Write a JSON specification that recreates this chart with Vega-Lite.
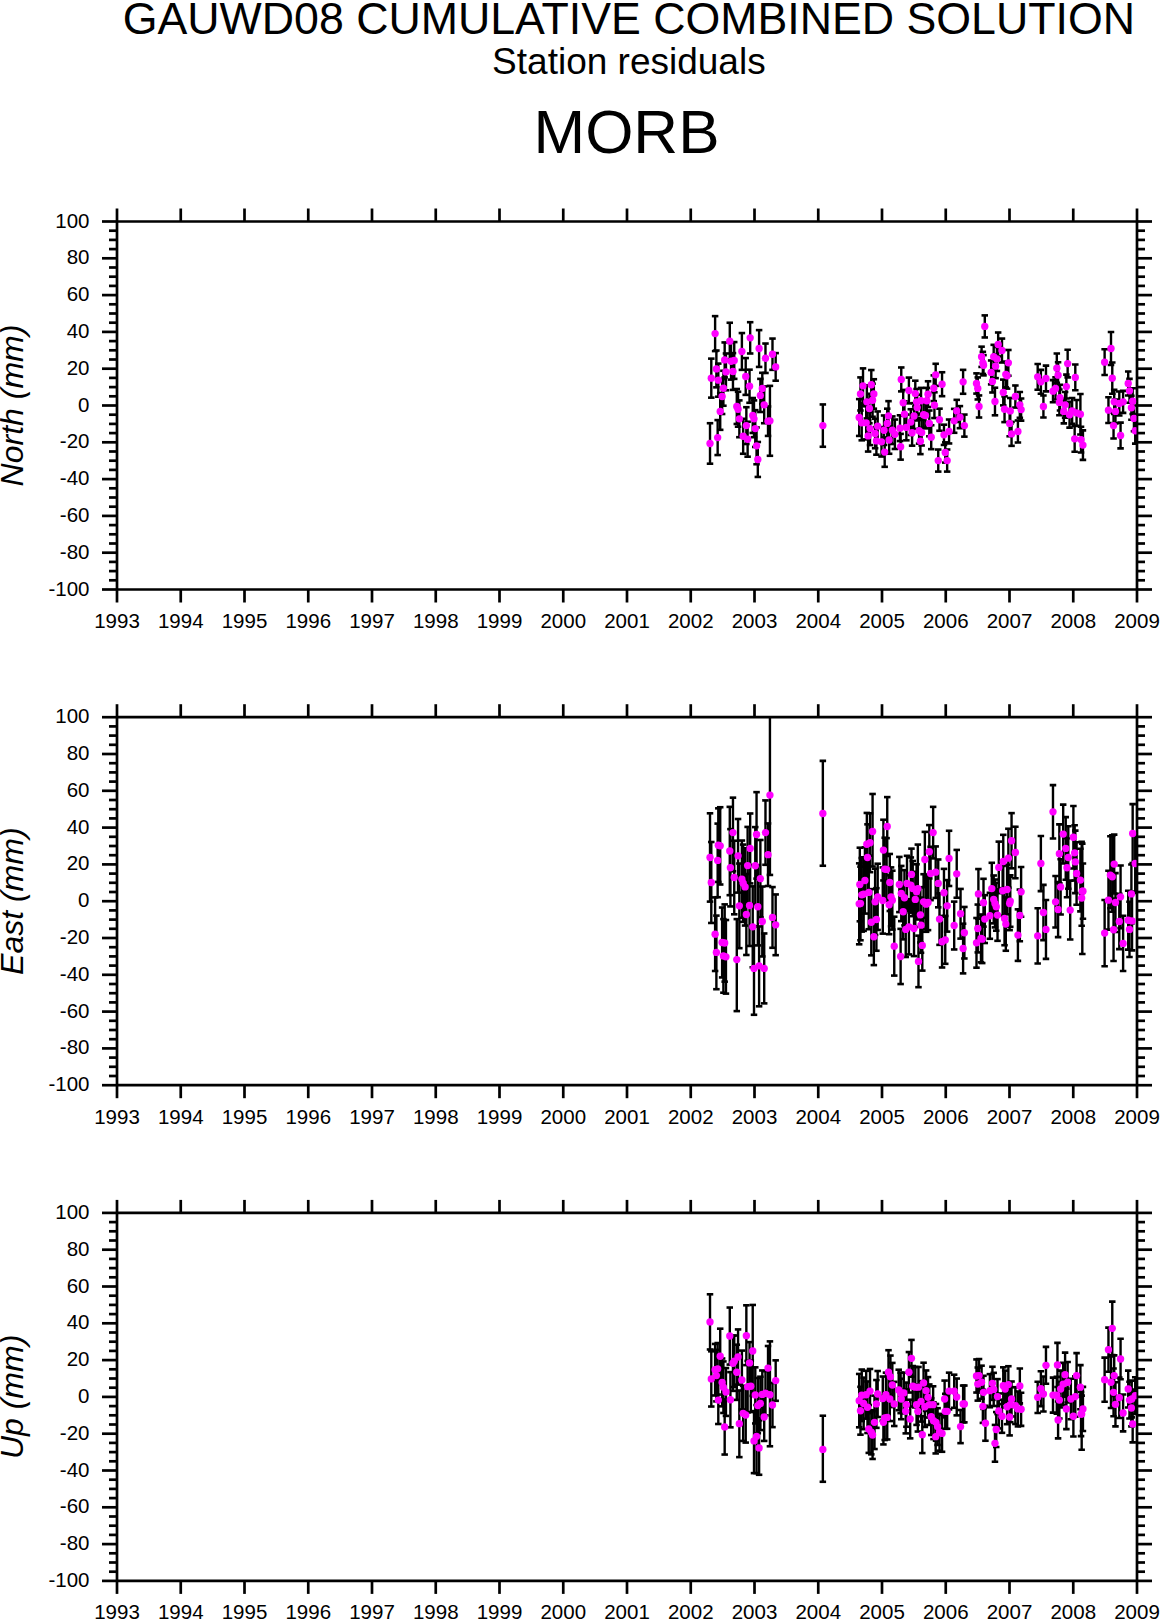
{
"$schema":"https://vega.github.io/schema/vega-lite/v6.json",
"background":"white",
"padding":{"left":-4.5,"top":-3,"right":0,"bottom":0},
"autosize":{"type":"pad"},
"bounds":"flush",
"spacing":127.7,
"title":{"text":"GAUWD08 CUMULATIVE COMBINED SOLUTION","subtitle":"Station residuals","anchor":"middle","font":"Liberation Sans","fontWeight":"normal","fontSize":44.7,"subtitleFont":"Liberation Sans","subtitleFontSize":37,"subtitleColor":"black","color":"black","offset":21,"subtitlePadding":1,"dx":51},
"config":{
 "view":{"stroke":null},
 "axis":{"grid":false,"domainColor":"black","domainWidth":2.7,"tickColor":"black","tickWidth":2.7,"labelColor":"black","labelFont":"Liberation Sans","labelFontSize":20.5,"labelOverlap":false,"labelFlush":false,"labelBound":false,"titleFont":"Liberation Sans","titleFontStyle":"italic","titleFontWeight":"normal","titleFontSize":32,"titleColor":"black","zindex":1,"tickRound":false}
},
"datasets":{
"north":[
{"t":2002.31,"v":-20.9,"lo":-31.9,"hi":-9.9},{"t":2002.33,"v":14.6,"lo":4,"hi":25.2},{"t":2002.39,"v":38.8,"lo":29.3,"hi":48.3},{"t":2002.41,"v":19.6,"lo":9.6,"hi":29.6},{"t":2002.43,"v":-17.7,"lo":-27.2,"hi":-8.2},{"t":2002.44,"v":13.5,"lo":4.5,"hi":22.5},{"t":2002.47,"v":-3.5,"lo":-13.5,"hi":6.5},{"t":2002.5,"v":4.6,"lo":-4.9,"hi":14.1},{"t":2002.52,"v":9.1,"lo":-0.4,"hi":18.6},{"t":2002.54,"v":24.5,"lo":15,"hi":34},{"t":2002.56,"v":18,"lo":8,"hi":28},{"t":2002.62,"v":34.7,"lo":24.7,"hi":44.7},{"t":2002.64,"v":23.8,"lo":13.8,"hi":33.8},{"t":2002.67,"v":18.2,"lo":8.2,"hi":28.2},{"t":2002.69,"v":24.2,"lo":14.2,"hi":34.2},{"t":2002.73,"v":-0.8,"lo":-10.3,"hi":8.7},{"t":2002.75,"v":-2.3,"lo":-11.8,"hi":7.2},{"t":2002.77,"v":-7.5,"lo":-17.5,"hi":2.5},{"t":2002.81,"v":29.1,"lo":19.1,"hi":39.1},{"t":2002.83,"v":-17,"lo":-26.5,"hi":-7.5},{"t":2002.87,"v":15.5,"lo":5.5,"hi":25.5},{"t":2002.88,"v":-11.2,"lo":-21.2,"hi":-1.2},{"t":2002.9,"v":-18.6,"lo":-28.1,"hi":-9.1},{"t":2002.93,"v":10.2,"lo":1.2,"hi":19.2},{"t":2002.94,"v":36.5,"lo":28,"hi":45},{"t":2002.98,"v":-5.7,"lo":-15.2,"hi":3.8},{"t":2003,"v":-7.5,"lo":-17.5,"hi":2.5},{"t":2003.02,"v":-12.8,"lo":-22.8,"hi":-2.8},{"t":2003.04,"v":-22.2,"lo":-32.2,"hi":-12.2},{"t":2003.06,"v":-29.6,"lo":-39.1,"hi":-20.1},{"t":2003.08,"v":30.7,"lo":20.7,"hi":40.7},{"t":2003.1,"v":5.2,"lo":-3.8,"hi":14.2},{"t":2003.13,"v":9,"lo":0.5,"hi":17.5},{"t":2003.16,"v":0.1,"lo":-9.9,"hi":10.1},{"t":2003.18,"v":25.4,"lo":17.4,"hi":33.4},{"t":2003.22,"v":-8.8,"lo":-16.8,"hi":-0.8},{"t":2003.25,"v":-8.6,"lo":-27.6,"hi":10.4},{"t":2003.29,"v":27.6,"lo":19.1,"hi":36.1},{"t":2003.34,"v":20.7,"lo":13.2,"hi":28.2},{"t":2004.08,"v":-11.2,"lo":-22.7,"hi":0.3},
{"t":2004.65,"v":-6.8,"lo":-16.8,"hi":3.2},{"t":2004.67,"v":6,"lo":-3,"hi":15},{"t":2004.69,"v":-9.7,"lo":-19.2,"hi":-0.2},{"t":2004.71,"v":10.4,"lo":0.9,"hi":19.9},{"t":2004.76,"v":-9.7,"lo":-18.7,"hi":-0.7},{"t":2004.77,"v":1.7,"lo":-7.3,"hi":10.7},{"t":2004.79,"v":-16.8,"lo":-25.3,"hi":-8.3},{"t":2004.81,"v":-1.9,"lo":-9.9,"hi":6.1},{"t":2004.82,"v":-12.8,"lo":-21.8,"hi":-3.8},{"t":2004.84,"v":11,"lo":3,"hi":19},{"t":2004.86,"v":2.6,"lo":-6.4,"hi":11.6},{"t":2004.88,"v":6,"lo":-2,"hi":14},{"t":2004.9,"v":-15.5,"lo":-23.5,"hi":-7.5},{"t":2004.92,"v":-19.5,"lo":-27,"hi":-12},{"t":2004.94,"v":-11.5,"lo":-19.5,"hi":-3.5},{"t":2005,"v":-20,"lo":-28,"hi":-12},{"t":2005.05,"v":-25.6,"lo":-33.6,"hi":-17.6},{"t":2005.04,"v":-13.7,"lo":-21.7,"hi":-5.7},{"t":2005.09,"v":-10,"lo":-18,"hi":-2},{"t":2005.11,"v":-5.9,"lo":-13.9,"hi":2.1},{"t":2005.12,"v":-19,"lo":-26.5,"hi":-11.5},{"t":2005.17,"v":-13.7,"lo":-21.2,"hi":-6.2},{"t":2005.21,"v":-15.9,"lo":-23.9,"hi":-7.9},{"t":2005.29,"v":-12.6,"lo":-19.6,"hi":-5.6},{"t":2005.3,"v":-22.7,"lo":-29.7,"hi":-15.7},{"t":2005.31,"v":13.9,"lo":7.4,"hi":20.4},{"t":2005.34,"v":1.2,"lo":-5.8,"hi":8.2},{"t":2005.36,"v":-5,"lo":-12,"hi":2},{"t":2005.39,"v":-12.2,"lo":-19.2,"hi":-5.2},{"t":2005.43,"v":7.9,"lo":0.9,"hi":14.9},{"t":2005.46,"v":-9.3,"lo":-16.3,"hi":-2.3},{"t":2005.48,"v":-15.1,"lo":-22.1,"hi":-8.1},{"t":2005.51,"v":-6,"lo":-13,"hi":1},{"t":2005.53,"v":6.2,"lo":-0.8,"hi":13.2},{"t":2005.55,"v":1.7,"lo":-5.3,"hi":8.7},{"t":2005.56,"v":-1.4,"lo":-8.4,"hi":5.6},{"t":2005.59,"v":-14,"lo":-21,"hi":-7},{"t":2005.61,"v":-19.7,"lo":-26.7,"hi":-12.7},{"t":2005.63,"v":-15,"lo":-22,"hi":-8},{"t":2005.62,"v":2.3,"lo":-4.7,"hi":9.3},{"t":2005.66,"v":-5.3,"lo":-12.3,"hi":1.7},{"t":2005.69,"v":-5.7,"lo":-12.7,"hi":1.3},{"t":2005.71,"v":2.3,"lo":-4.7,"hi":9.3},{"t":2005.73,"v":5.9,"lo":-1.1,"hi":12.9},{"t":2005.75,"v":-10,"lo":-17,"hi":-3},{"t":2005.78,"v":-17.5,"lo":-24,"hi":-11},{"t":2005.82,"v":9.1,"lo":2.1,"hi":16.1},{"t":2005.83,"v":-0.1,"lo":-7.1,"hi":6.9},{"t":2005.85,"v":16.4,"lo":10.4,"hi":22.4},{"t":2005.89,"v":-30.2,"lo":-36.2,"hi":-24.2},{"t":2005.91,"v":-8,"lo":-14,"hi":-2},{"t":2005.95,"v":11.3,"lo":4.8,"hi":17.8},{"t":2005.98,"v":-16.2,"lo":-21.7,"hi":-10.7},{"t":2006,"v":-25.8,"lo":-31.3,"hi":-20.3},{"t":2006.03,"v":-30.2,"lo":-36.2,"hi":-24.2},{"t":2006.06,"v":-14.4,"lo":-20.9,"hi":-7.9},{"t":2006.14,"v":-8.6,"lo":-15.1,"hi":-2.1},{"t":2006.18,"v":-3.2,"lo":-9.2,"hi":2.8},{"t":2006.23,"v":-6.6,"lo":-12.6,"hi":-0.6},{"t":2006.28,"v":12.6,"lo":6.1,"hi":19.1},{"t":2006.3,"v":-11.2,"lo":-17.2,"hi":-5.2},
{"t":2006.49,"v":11.7,"lo":6.2,"hi":17.2},{"t":2006.51,"v":9,"lo":3,"hi":15},{"t":2006.53,"v":-0.8,"lo":-6.8,"hi":5.2},{"t":2006.57,"v":26.2,"lo":20.7,"hi":31.7},{"t":2006.59,"v":22.9,"lo":16.9,"hi":28.9},{"t":2006.6,"v":21.6,"lo":16.1,"hi":27.1},{"t":2006.62,"v":42.7,"lo":36.7,"hi":48.7},{"t":2006.72,"v":17.7,"lo":11.2,"hi":24.2},{"t":2006.74,"v":12.8,"lo":6.8,"hi":18.8},{"t":2006.76,"v":26.2,"lo":19.7,"hi":32.7},{"t":2006.78,"v":1.9,"lo":-5.6,"hi":9.4},{"t":2006.79,"v":21.1,"lo":14.6,"hi":27.6},{"t":2006.81,"v":25,"lo":18.5,"hi":31.5},{"t":2006.83,"v":32.9,"lo":26.4,"hi":39.4},{"t":2006.89,"v":29.6,"lo":23.1,"hi":36.1},{"t":2006.91,"v":6.8,"lo":-0.2,"hi":13.8},{"t":2006.93,"v":-2.3,"lo":-9.3,"hi":4.7},{"t":2006.95,"v":16.6,"lo":9.6,"hi":23.6},{"t":2006.97,"v":15.9,"lo":8.9,"hi":22.9},{"t":2006.99,"v":22.9,"lo":15.9,"hi":29.9},{"t":2007.01,"v":-10,"lo":-17,"hi":-3},{"t":2007.02,"v":-3.2,"lo":-10.2,"hi":3.8},{"t":2007.04,"v":-15.7,"lo":-22.2,"hi":-9.2},{"t":2007.1,"v":4.6,"lo":-1.4,"hi":10.6},{"t":2007.14,"v":-14.4,"lo":-20.4,"hi":-8.4},{"t":2007.17,"v":0.1,"lo":-6.9,"hi":7.1},{"t":2007.19,"v":-2.5,"lo":-8.5,"hi":3.5},
{"t":2007.45,"v":15.3,"lo":8.3,"hi":22.3},{"t":2007.5,"v":12.6,"lo":6.1,"hi":19.1},{"t":2007.54,"v":-0.8,"lo":-6.8,"hi":5.2},{"t":2007.58,"v":14.4,"lo":7.4,"hi":21.4},{"t":2007.69,"v":7.5,"lo":1.5,"hi":13.5},{"t":2007.73,"v":9,"lo":3,"hi":15},{"t":2007.75,"v":20,"lo":12,"hi":28},{"t":2007.77,"v":16.2,"lo":9.2,"hi":23.2},{"t":2007.79,"v":1.4,"lo":-5.6,"hi":8.4},{"t":2007.8,"v":4,"lo":-3,"hi":11},{"t":2007.86,"v":-3.5,"lo":-10,"hi":3},{"t":2007.88,"v":0.1,"lo":-6.9,"hi":7.1},{"t":2007.9,"v":10,"lo":3.5,"hi":16.5},{"t":2007.92,"v":22.5,"lo":15,"hi":30},{"t":2007.95,"v":-5.3,"lo":-12.3,"hi":1.7},{"t":2007.99,"v":-3.2,"lo":-10.2,"hi":3.8},{"t":2008.03,"v":-18.4,"lo":-25.4,"hi":-11.4},{"t":2008.04,"v":15,"lo":8,"hi":22},{"t":2008.06,"v":-4.3,"lo":-11.3,"hi":2.7},{"t":2008.12,"v":-5,"lo":-16,"hi":6},{"t":2008.13,"v":-18.8,"lo":-25.8,"hi":-11.8},{"t":2008.16,"v":-21.8,"lo":-29.8,"hi":-13.8},
{"t":2008.5,"v":23.3,"lo":16.3,"hi":30.3},{"t":2008.56,"v":-2.8,"lo":-9.8,"hi":4.2},{"t":2008.6,"v":30.7,"lo":21.7,"hi":39.7},{"t":2008.62,"v":14.6,"lo":6.1,"hi":23.1},{"t":2008.64,"v":-11.2,"lo":-18.2,"hi":-4.2},{"t":2008.65,"v":1.7,"lo":-4.8,"hi":8.2},{"t":2008.67,"v":-3.5,"lo":-10,"hi":3},{"t":2008.73,"v":0.8,"lo":-5.7,"hi":7.3},{"t":2008.75,"v":-16.6,"lo":-23.6,"hi":-9.6},{"t":2008.79,"v":1.7,"lo":-4.3,"hi":7.7},{"t":2008.87,"v":11.7,"lo":5.2,"hi":18.2},{"t":2008.89,"v":7.7,"lo":1.2,"hi":14.2},{"t":2008.92,"v":-1.5,"lo":-8,"hi":5},{"t":2008.94,"v":2.1,"lo":-4.9,"hi":9.1},{"t":2008.96,"v":-7.3,"lo":-14.3,"hi":-0.3},{"t":2008.98,"v":-14,"lo":-21,"hi":-7}
],
"east":[
{"t":2002.31,"v":23.5,"lo":-0.5,"hi":47.5},{"t":2002.33,"v":9.9,"lo":-12.1,"hi":31.9},{"t":2002.39,"v":-18.2,"lo":-38.2,"hi":1.8},{"t":2002.41,"v":-28.1,"lo":-48.1,"hi":-8.1},{"t":2002.43,"v":21.9,"lo":1.9,"hi":41.9},{"t":2002.44,"v":30.2,"lo":10.2,"hi":50.2},{"t":2002.47,"v":29.8,"lo":8.8,"hi":50.8},{"t":2002.5,"v":-22.7,"lo":-41.7,"hi":-3.7},{"t":2002.54,"v":-23,"lo":-44,"hi":-2},{"t":2002.52,"v":-30,"lo":-50,"hi":-10},{"t":2002.56,"v":-30.5,"lo":-50.5,"hi":-10.5},{"t":2002.62,"v":27,"lo":3,"hi":51},{"t":2002.63,"v":17.9,"lo":-3.1,"hi":38.9},{"t":2002.67,"v":37,"lo":16,"hi":56},{"t":2002.69,"v":12.6,"lo":-7.4,"hi":32.6},{"t":2002.73,"v":-32,"lo":-60,"hi":-10},{"t":2002.75,"v":24.4,"lo":4.4,"hi":44.4},{"t":2002.77,"v":-2.8,"lo":-25.8,"hi":20.2},{"t":2002.81,"v":11.7,"lo":-9.3,"hi":32.7},{"t":2002.83,"v":9.5,"lo":-11.5,"hi":30.5},{"t":2002.86,"v":7.5,"lo":-13.5,"hi":28.5},{"t":2002.88,"v":-7.5,"lo":-29.5,"hi":14.5},{"t":2002.9,"v":19.1,"lo":-1.9,"hi":40.1},{"t":2002.93,"v":-2.6,"lo":-24.6,"hi":19.4},{"t":2002.94,"v":28.4,"lo":9.4,"hi":47.4},{"t":2002.98,"v":-14.2,"lo":-36.2,"hi":7.8},{"t":2003,"v":-36.8,"lo":-62,"hi":-14},{"t":2003.02,"v":19,"lo":-2,"hi":40},{"t":2003.04,"v":36,"lo":12,"hi":59},{"t":2003.06,"v":-3.3,"lo":-24.3,"hi":19.3},{"t":2003.08,"v":-35.4,"lo":-57.4,"hi":-14},{"t":2003.1,"v":12,"lo":-9,"hi":33},{"t":2003.13,"v":-11.3,"lo":-30.3,"hi":7.7},{"t":2003.16,"v":-36.8,"lo":-55.8,"hi":-17.8},{"t":2003.18,"v":37,"lo":19.5,"hi":54.5},{"t":2003.22,"v":25,"lo":8,"hi":42},{"t":2003.25,"v":57.4,"lo":14,"hi":100.5},{"t":2003.29,"v":-9.1,"lo":-25.6,"hi":7.4},{"t":2003.34,"v":-13.1,"lo":-29.6,"hi":3.4},{"t":2004.08,"v":47.4,"lo":19,"hi":76},
{"t":2004.65,"v":-1.7,"lo":-23.7,"hi":20.3},{"t":2004.67,"v":-1.5,"lo":-21.5,"hi":18.5},{"t":2004.66,"v":8.8,"lo":-11.2,"hi":28.8},{"t":2004.69,"v":3.2,"lo":-16.8,"hi":23.2},{"t":2004.72,"v":3.6,"lo":-16.4,"hi":23.6},{"t":2004.74,"v":11,"lo":-7,"hi":29},{"t":2004.77,"v":30.7,"lo":13.7,"hi":47.7},{"t":2004.78,"v":23.5,"lo":5.5,"hi":41.5},{"t":2004.8,"v":4.5,"lo":-15.5,"hi":24.5},{"t":2004.82,"v":31.5,"lo":15.5,"hi":47.5},{"t":2004.84,"v":-11.7,"lo":-29.7,"hi":6.3},{"t":2004.86,"v":37.6,"lo":18.6,"hi":58},{"t":2004.88,"v":-19.6,"lo":-35,"hi":-0.6},{"t":2004.9,"v":-0.6,"lo":-18.6,"hi":17.4},{"t":2004.92,"v":-10.2,"lo":-27.2,"hi":6.8},{"t":2004.94,"v":2.1,"lo":-15.9,"hi":20.1},{"t":2005.02,"v":0.1,"lo":-17.9,"hi":18.1},{"t":2005.03,"v":27.5,"lo":11,"hi":44},{"t":2005.05,"v":17.2,"lo":0.2,"hi":34.2},{"t":2005.08,"v":17,"lo":0,"hi":34},{"t":2005.09,"v":40.3,"lo":24.3,"hi":56.3},{"t":2005.12,"v":-2.2,"lo":-18.2,"hi":13.8},{"t":2005.13,"v":9.9,"lo":-5.6,"hi":25.4},{"t":2005.15,"v":2.1,"lo":-13.9,"hi":18.1},{"t":2005.17,"v":0.3,"lo":-15.7,"hi":16.3},{"t":2005.2,"v":-24.7,"lo":-40.7,"hi":-8.7},{"t":2005.28,"v":8.8,"lo":-6.2,"hi":23.8},{"t":2005.3,"v":-30.3,"lo":-45.3,"hi":-15.3},{"t":2005.31,"v":3.9,"lo":-11.1,"hi":18.9},{"t":2005.34,"v":-6,"lo":-21,"hi":9},{"t":2005.36,"v":1.6,"lo":-13.4,"hi":16.6},{"t":2005.38,"v":-15.6,"lo":-30.6,"hi":-0.6},{"t":2005.4,"v":9.4,"lo":-5.6,"hi":24.4},{"t":2005.43,"v":-14.2,"lo":-29.2,"hi":0.8},{"t":2005.46,"v":8.5,"lo":-6.5,"hi":23.5},{"t":2005.47,"v":14.3,"lo":0.3,"hi":28.3},{"t":2005.51,"v":-15.1,"lo":-30.1,"hi":-0.1},{"t":2005.49,"v":6.6,"lo":-8.4,"hi":21.6},{"t":2005.53,"v":0.7,"lo":-14.3,"hi":15.7},{"t":2005.55,"v":4.8,"lo":-10.2,"hi":19.8},{"t":2005.57,"v":6.6,"lo":-8.4,"hi":30.5},{"t":2005.58,"v":-33,"lo":-47,"hi":-19},{"t":2005.61,"v":-7.7,"lo":-22.7,"hi":7.3},{"t":2005.62,"v":-13.3,"lo":-28.3,"hi":1.7},{"t":2005.64,"v":-24.3,"lo":-38,"hi":-9.3},{"t":2005.66,"v":-0.6,"lo":-15.6,"hi":14.4},{"t":2005.68,"v":22.4,"lo":7.4,"hi":37.4},{"t":2005.7,"v":-1.9,"lo":-16.9,"hi":13.1},{"t":2005.73,"v":-1,"lo":-16,"hi":14},{"t":2005.75,"v":26.6,"lo":12.1,"hi":41.1},{"t":2005.77,"v":14.8,"lo":0.3,"hi":29.3},{"t":2005.81,"v":37,"lo":23,"hi":51},{"t":2005.85,"v":15.5,"lo":1.5,"hi":29.5},{"t":2005.89,"v":9.4,"lo":-3.6,"hi":22.4},{"t":2005.91,"v":-10,"lo":-24,"hi":4},{"t":2005.95,"v":-22.3,"lo":-36.3,"hi":-8.3},{"t":2005.98,"v":4.3,"lo":-8.7,"hi":17.3},{"t":2006,"v":-21.3,"lo":-34.3,"hi":-8.3},{"t":2006.03,"v":-2.8,"lo":-16.8,"hi":11.2},{"t":2006.06,"v":23,"lo":8,"hi":38},{"t":2006.14,"v":-13.5,"lo":-26.5,"hi":-0.5},{"t":2006.18,"v":14.6,"lo":1.6,"hi":27.6},{"t":2006.24,"v":-7.1,"lo":-20.6,"hi":6.4},{"t":2006.28,"v":-26,"lo":-39.5,"hi":-12.5},{"t":2006.3,"v":-17.4,"lo":-31.4,"hi":-3.4},
{"t":2006.49,"v":-22.9,"lo":-36.4,"hi":-9.4},{"t":2006.51,"v":-15.1,"lo":-28.1,"hi":-2.1},{"t":2006.52,"v":3.7,"lo":-9.8,"hi":17.2},{"t":2006.56,"v":-20.5,"lo":-33.5,"hi":-7.5},{"t":2006.58,"v":-20.9,"lo":-33.9,"hi":-7.9},{"t":2006.6,"v":-1.1,"lo":-14.1,"hi":11.9},{"t":2006.62,"v":-10,"lo":-23,"hi":3},{"t":2006.7,"v":-8.2,"lo":-20.7,"hi":4.3},{"t":2006.73,"v":6.6,"lo":-7.4,"hi":20.6},{"t":2006.76,"v":0.7,"lo":-12.3,"hi":13.7},{"t":2006.78,"v":-1.5,"lo":-14.5,"hi":11.5},{"t":2006.8,"v":-3.3,"lo":-16.3,"hi":9.7},{"t":2006.82,"v":-7.8,"lo":-21.8,"hi":6.2},{"t":2006.84,"v":18.1,"lo":4.1,"hi":32.1},{"t":2006.9,"v":5.4,"lo":-8.1,"hi":18.9},{"t":2006.91,"v":21.3,"lo":6.8,"hi":35.8},{"t":2006.93,"v":-9.7,"lo":-24.2,"hi":4.8},{"t":2006.95,"v":-12.7,"lo":-27.2,"hi":1.8},{"t":2006.97,"v":6.1,"lo":-7.4,"hi":19.6},{"t":2006.99,"v":23.1,"lo":7.1,"hi":39.1},{"t":2007.01,"v":-1.5,"lo":-16,"hi":13},{"t":2007.02,"v":-0.2,"lo":-14.2,"hi":13.8},{"t":2007.04,"v":32.6,"lo":17.6,"hi":47.6},{"t":2007.1,"v":26.2,"lo":12.2,"hi":40.2},{"t":2007.14,"v":-18.7,"lo":-32.7,"hi":-4.7},{"t":2007.17,"v":-8,"lo":-22,"hi":6},{"t":2007.19,"v":4.8,"lo":-8.7,"hi":18.3},
{"t":2007.45,"v":-19.1,"lo":-34.1,"hi":-4.1},{"t":2007.5,"v":20.2,"lo":5.2,"hi":35.2},{"t":2007.54,"v":-6.4,"lo":-21.4,"hi":8.6},{"t":2007.58,"v":-15.6,"lo":-31.6,"hi":0.4},{"t":2007.69,"v":48.3,"lo":33.8,"hi":62.8},{"t":2007.73,"v":-0.6,"lo":-14.6,"hi":13.4},{"t":2007.77,"v":-4.8,"lo":-19.8,"hi":10.2},{"t":2007.79,"v":25.5,"lo":9.5,"hi":41.5},{"t":2007.81,"v":7.5,"lo":-7.5,"hi":22.5},{"t":2007.85,"v":36.2,"lo":20.2,"hi":52.2},{"t":2007.89,"v":28.4,"lo":11.4,"hi":45.4},{"t":2007.91,"v":17.9,"lo":1.9,"hi":33.9},{"t":2007.93,"v":23.5,"lo":6.5,"hi":40.5},{"t":2007.96,"v":-5.1,"lo":-21.1,"hi":10.9},{"t":2008.01,"v":34.5,"lo":17.5,"hi":51.5},{"t":2008.03,"v":26,"lo":11,"hi":41},{"t":2008.04,"v":21.1,"lo":4.1,"hi":38.1},{"t":2008.06,"v":14.8,"lo":-2.2,"hi":31.8},{"t":2008.12,"v":11.2,"lo":-5.8,"hi":28.2},{"t":2008.14,"v":1.4,"lo":-13.6,"hi":32},{"t":2008.15,"v":5.2,"lo":-29,"hi":31},{"t":2008.16,"v":5.2,"lo":-9.8,"hi":20.2},
{"t":2008.5,"v":-17.6,"lo":-35.6,"hi":0.4},{"t":2008.56,"v":0.3,"lo":-15.7,"hi":16.3},{"t":2008.59,"v":13.9,"lo":-4.1,"hi":35},{"t":2008.62,"v":13,"lo":-6,"hi":35.5},{"t":2008.64,"v":-15.8,"lo":-32.8,"hi":1.2},{"t":2008.65,"v":19.9,"lo":3.9,"hi":35.9},{"t":2008.67,"v":-1,"lo":-17,"hi":15},{"t":2008.73,"v":-11.3,"lo":-26.3,"hi":3.7},{"t":2008.75,"v":2.1,"lo":-14.9,"hi":19.1},{"t":2008.79,"v":-23.2,"lo":-38.2,"hi":-8.2},{"t":2008.87,"v":-10.6,"lo":-26.6,"hi":5.4},{"t":2008.89,"v":-15.6,"lo":-30.6,"hi":-0.6},{"t":2008.92,"v":3.7,"lo":-12.3,"hi":19.7},{"t":2008.94,"v":36.5,"lo":20.5,"hi":52.5},{"t":2008.93,"v":-11,"lo":-27,"hi":5},{"t":2008.98,"v":20.2,"lo":4.2,"hi":36.2}
],
"up":[
{"t":2002.31,"v":40.5,"lo":25.5,"hi":55.5},{"t":2002.33,"v":9.5,"lo":-5.5,"hi":24.5},{"t":2002.39,"v":14.5,"lo":0.5,"hi":28.5},{"t":2002.41,"v":11.3,"lo":-2.7,"hi":25.3},{"t":2002.43,"v":15,"lo":1,"hi":29},{"t":2002.44,"v":-2,"lo":-15,"hi":11},{"t":2002.47,"v":21.8,"lo":6.8,"hi":36.8},{"t":2002.5,"v":7.6,"lo":-5.4,"hi":20.6},{"t":2002.52,"v":5,"lo":-9,"hi":19},{"t":2002.54,"v":-16.6,"lo":-31.6,"hi":-1.6},{"t":2002.56,"v":2.4,"lo":-10.6,"hi":15.4},{"t":2002.62,"v":32.8,"lo":17.3,"hi":48.3},{"t":2002.63,"v":-1.8,"lo":-16.8,"hi":13.2},{"t":2002.67,"v":18,"lo":3,"hi":33},{"t":2002.69,"v":19.1,"lo":5.1,"hi":33.1},{"t":2002.73,"v":13.1,"lo":-1.9,"hi":28.1},{"t":2002.75,"v":21.4,"lo":6.4,"hi":36.4},{"t":2002.77,"v":-14.8,"lo":-33,"hi":3.2},{"t":2002.81,"v":8.9,"lo":-7.1,"hi":24.9},{"t":2002.83,"v":-9.2,"lo":-24.2,"hi":5.8},{"t":2002.87,"v":-10.1,"lo":-25.1,"hi":4.9},{"t":2002.88,"v":33,"lo":17,"hi":49.5},{"t":2002.9,"v":5.3,"lo":-8.7,"hi":19.3},{"t":2002.93,"v":18.2,"lo":4.2,"hi":29.5},{"t":2002.95,"v":5.5,"lo":-8.5,"hi":19.5},{"t":2002.98,"v":24.7,"lo":0.3,"hi":49.7},{"t":2003,"v":-24.2,"lo":-41.7,"hi":-8},{"t":2003.02,"v":0.8,"lo":-14.7,"hi":15.8},{"t":2003.04,"v":-21.7,"lo":-41.7,"hi":-4.7},{"t":2003.06,"v":-5,"lo":-20,"hi":10},{"t":2003.08,"v":-28,"lo":-42.6,"hi":-13},{"t":2003.1,"v":-3.8,"lo":-18.3,"hi":10.7},{"t":2003.13,"v":1.1,"lo":-11.9,"hi":14.1},{"t":2003.16,"v":-11.2,"lo":-24.2,"hi":1.8},{"t":2003.18,"v":1.7,"lo":-10.3,"hi":13.7},{"t":2003.22,"v":15.4,"lo":3.4,"hi":27.4},{"t":2003.25,"v":0.9,"lo":-27.1,"hi":29.9},{"t":2003.29,"v":-4.7,"lo":-16.7,"hi":7.3},{"t":2003.34,"v":8.6,"lo":-2.4,"hi":19.6},{"t":2004.08,"v":-28.8,"lo":-46.4,"hi":-10.5},
{"t":2004.65,"v":-2.3,"lo":-16.8,"hi":12.2},{"t":2004.67,"v":-7.8,"lo":-20.8,"hi":5.2},{"t":2004.69,"v":0.6,"lo":-13.4,"hi":14.6},{"t":2004.72,"v":-3.8,"lo":-17.8,"hi":10.2},{"t":2004.76,"v":0.9,"lo":-12.1,"hi":13.9},{"t":2004.78,"v":-5.9,"lo":-19.9,"hi":8.1},{"t":2004.8,"v":-17.7,"lo":-30.7,"hi":-4.7},{"t":2004.82,"v":2.9,"lo":-9.1,"hi":14.9},{"t":2004.84,"v":-19.5,"lo":-31.5,"hi":-7.5},{"t":2004.86,"v":-21,"lo":-34,"hi":-8},{"t":2004.89,"v":-14.1,"lo":-28.6,"hi":0.4},{"t":2004.92,"v":-4.1,"lo":-17.1,"hi":8.9},{"t":2004.94,"v":1.3,"lo":-11.2,"hi":13.8},{"t":2005.02,"v":-1.2,"lo":-13.2,"hi":10.8},{"t":2005.03,"v":-14.1,"lo":-26.1,"hi":-2.1},{"t":2005.05,"v":-11.7,"lo":-23.7,"hi":0.3},{"t":2005.07,"v":0.9,"lo":-11.1,"hi":12.9},{"t":2005.09,"v":-11.4,"lo":-23.4,"hi":0.6},{"t":2005.11,"v":13.1,"lo":1.1,"hi":25.1},{"t":2005.13,"v":-1.4,"lo":-13.4,"hi":10.6},{"t":2005.14,"v":10.7,"lo":-0.8,"hi":22.2},{"t":2005.17,"v":6.2,"lo":-5.8,"hi":18.2},{"t":2005.2,"v":-4.1,"lo":-16.1,"hi":7.9},{"t":2005.27,"v":3.5,"lo":-7.5,"hi":14.5},{"t":2005.3,"v":1.9,"lo":-9.1,"hi":12.9},{"t":2005.31,"v":-1.4,"lo":-12.4,"hi":9.6},{"t":2005.35,"v":1.9,"lo":-9.1,"hi":12.9},{"t":2005.39,"v":-4.5,"lo":-16.5,"hi":7.5},{"t":2005.38,"v":-8.1,"lo":-20.1,"hi":3.9},{"t":2005.43,"v":13.1,"lo":2.1,"hi":24.1},{"t":2005.45,"v":-12.3,"lo":-22.8,"hi":-1.8},{"t":2005.47,"v":20.7,"lo":10.7,"hi":30.7},{"t":2005.49,"v":5.5,"lo":-5.5,"hi":16.5},{"t":2005.53,"v":5,"lo":-6,"hi":16},{"t":2005.55,"v":-4.5,"lo":-15.5,"hi":6.5},{"t":2005.57,"v":-8.1,"lo":-19.1,"hi":2.9},{"t":2005.58,"v":5,"lo":-6,"hi":16},{"t":2005.62,"v":-2.7,"lo":-13.7,"hi":8.3},{"t":2005.64,"v":-20.8,"lo":-30.8,"hi":-10.8},{"t":2005.66,"v":7.3,"lo":-3.7,"hi":18.3},{"t":2005.68,"v":-5.6,"lo":-16.6,"hi":5.4},{"t":2005.7,"v":3.1,"lo":-7.9,"hi":14.1},{"t":2005.73,"v":-0.5,"lo":-11.5,"hi":10.5},{"t":2005.75,"v":-4.5,"lo":-15.5,"hi":6.5},{"t":2005.78,"v":-11,"lo":-21,"hi":-1},{"t":2005.81,"v":-4.5,"lo":-14.5,"hi":5.5},{"t":2005.815,"v":-13.2,"lo":-23.2,"hi":-3.2},{"t":2005.85,"v":-21.9,"lo":-31,"hi":-11.9},{"t":2005.855,"v":-14.1,"lo":-24.1,"hi":-4.1},{"t":2005.88,"v":-16.4,"lo":-26.4,"hi":-6.4},{"t":2005.91,"v":-19.5,"lo":-29.5,"hi":-9.5},{"t":2005.95,"v":-20.1,"lo":-30.1,"hi":-10.1},{"t":2005.99,"v":-1.4,"lo":-11.4,"hi":8.6},{"t":2006,"v":-8.1,"lo":-17.6,"hi":1.4},{"t":2006.03,"v":-8.1,"lo":-17.6,"hi":1.4},{"t":2006.06,"v":2.9,"lo":-7.1,"hi":12.9},{"t":2006.14,"v":2.8,"lo":-6.2,"hi":11.8},{"t":2006.18,"v":-0.3,"lo":-10.3,"hi":9.7},{"t":2006.24,"v":-16.4,"lo":-25.4,"hi":-7.4},{"t":2006.28,"v":-4.1,"lo":-14.1,"hi":5.9},{"t":2006.3,"v":-4.1,"lo":-14.1,"hi":5.9},
{"t":2006.49,"v":11.1,"lo":2.1,"hi":20.1},{"t":2006.51,"v":6.7,"lo":-2.3,"hi":15.7},{"t":2006.53,"v":11.3,"lo":2.3,"hi":20.3},{"t":2006.57,"v":7.7,"lo":-1.3,"hi":16.7},{"t":2006.59,"v":-5.4,"lo":-14.4,"hi":3.6},{"t":2006.6,"v":2.2,"lo":-6.8,"hi":11.2},{"t":2006.63,"v":-14.6,"lo":-24.1,"hi":-5.1},{"t":2006.7,"v":3.1,"lo":-5.9,"hi":12.1},{"t":2006.74,"v":7.1,"lo":-1.9,"hi":16.1},{"t":2006.76,"v":3.8,"lo":-5.2,"hi":12.8},{"t":2006.78,"v":-25.5,"lo":-35.5,"hi":-15.5},{"t":2006.8,"v":-18,"lo":-27.5,"hi":-8.5},{"t":2006.82,"v":-0.1,"lo":-9.6,"hi":9.4},{"t":2006.84,"v":-7.9,"lo":-17.4,"hi":1.6},{"t":2006.89,"v":-10.8,"lo":-19.8,"hi":-1.8},{"t":2006.91,"v":5.8,"lo":-4.2,"hi":15.8},{"t":2006.94,"v":4,"lo":-6,"hi":14},{"t":2006.97,"v":-5.6,"lo":-15.1,"hi":3.9},{"t":2006.99,"v":6.4,"lo":-3.6,"hi":16.4},{"t":2007.01,"v":-11.2,"lo":-21.2,"hi":-1.2},{"t":2007.02,"v":-4.5,"lo":-14,"hi":5},{"t":2007.04,"v":-1.4,"lo":-10.9,"hi":8.1},{"t":2007.1,"v":-5,"lo":-15,"hi":5},{"t":2007.14,"v":-6.8,"lo":-16.3,"hi":2.7},{"t":2007.17,"v":5.7,"lo":-3.8,"hi":15.2},{"t":2007.19,"v":-7,"lo":-16,"hi":2},
{"t":2007.45,"v":-0.5,"lo":-9,"hi":8},{"t":2007.5,"v":4.2,"lo":-5.3,"hi":13.7},{"t":2007.54,"v":1.3,"lo":-8.2,"hi":10.8},{"t":2007.58,"v":16.9,"lo":6.9,"hi":26.9},{"t":2007.69,"v":0.7,"lo":-8.8,"hi":10.2},{"t":2007.75,"v":0.6,"lo":-9.4,"hi":10.6},{"t":2007.76,"v":17.1,"lo":5.1,"hi":29.1},{"t":2007.77,"v":-12.8,"lo":-22.8,"hi":-2.8},{"t":2007.79,"v":-2,"lo":-12,"hi":8},{"t":2007.81,"v":4,"lo":-6,"hi":14},{"t":2007.85,"v":6.7,"lo":-4.8,"hi":18.2},{"t":2007.88,"v":11.8,"lo":-0.2,"hi":23.8},{"t":2007.9,"v":-6.8,"lo":-17.8,"hi":4.2},{"t":2007.92,"v":7.7,"lo":-3.3,"hi":18.7},{"t":2007.97,"v":-1.4,"lo":-12.4,"hi":9.6},{"t":2008.01,"v":-10.8,"lo":-21.8,"hi":0.2},{"t":2008.04,"v":-0.1,"lo":-11.1,"hi":10.9},{"t":2008.06,"v":11.3,"lo":-0.2,"hi":23.5},{"t":2008.12,"v":5,"lo":-7,"hi":17},{"t":2008.13,"v":-9.6,"lo":-21.6,"hi":2.4},{"t":2008.14,"v":-9.6,"lo":-29,"hi":0.4},{"t":2008.16,"v":-6.8,"lo":-18.8,"hi":5.2},
{"t":2008.5,"v":9.1,"lo":-2.9,"hi":21.1},{"t":2008.56,"v":25.4,"lo":13.4,"hi":37.4},{"t":2008.6,"v":7.7,"lo":-6.3,"hi":21.7},{"t":2008.62,"v":37,"lo":22.5,"hi":51.5},{"t":2008.64,"v":2.2,"lo":-10.8,"hi":15.2},{"t":2008.65,"v":11.3,"lo":0.3,"hi":22.3},{"t":2008.67,"v":-4.3,"lo":-16.3,"hi":7.7},{"t":2008.73,"v":-0.7,"lo":-11.7,"hi":10.3},{"t":2008.75,"v":20.3,"lo":9.3,"hi":31.3},{"t":2008.79,"v":-9,"lo":-19,"hi":1},{"t":2008.87,"v":4,"lo":-6,"hi":14},{"t":2008.89,"v":-2,"lo":-12,"hi":8},{"t":2008.92,"v":-6.3,"lo":-16.3,"hi":3.7},{"t":2008.925,"v":-1.4,"lo":-11.4,"hi":8.6},{"t":2008.94,"v":-15,"lo":-25,"hi":3},{"t":2008.98,"v":0.4,"lo":-9.6,"hi":10.4}
]
},
"vconcat":[
{"width":1020,"height":368,"title":{"text":"MORB","font":"Liberation Sans","fontWeight":"normal","fontSize":62,"color":"black","anchor":"middle","offset":41},
"data":{"name":"north"},"resolve":{"axis":{"x":"independent","y":"independent"}},
"layer":[
{"mark":{"type":"rule","stroke":"black","strokeWidth":2.4,"clip":true},"encoding":{
 "x":{"field":"t","type":"quantitative","scale":{"domain":[1993,2009],"nice":false,"zero":false},"axis":{"orient":"bottom","title":null,"values":[1993,1994,1995,1996,1997,1998,1999,2000,2001,2002,2003,2004,2005,2006,2007,2008,2009],"format":"d","tickSize":13,"labelPadding":9.5}},
 "y":{"field":"lo","type":"quantitative","scale":{"domain":[-100,100],"nice":false,"zero":false},"axis":{"orient":"left","title":"North (mm)","values":[-100,-80,-60,-40,-20,0,20,40,60,80,100],"labelExpr":"'' + datum.value","tickSize":15,"labelPadding":12.5,"titlePadding":18.5}},
 "y2":{"field":"hi"}}},
{"mark":{"type":"tick","orient":"horizontal","size":6.5,"thickness":2.6,"color":"black","opacity":1,"clip":true},"encoding":{
 "x":{"field":"t","type":"quantitative","axis":{"orient":"top","title":null,"labels":false,"values":[1993,1994,1995,1996,1997,1998,1999,2000,2001,2002,2003,2004,2005,2006,2007,2008,2009],"tickSize":13}},
 "y":{"field":"lo","type":"quantitative","axis":{"orient":"left","title":null,"labels":false,"domain":false,"tickSize":8,"values":[-95,-90,-85,-75,-70,-65,-55,-50,-45,-35,-30,-25,-15,-10,-5,5,10,15,25,30,35,45,50,55,65,70,75,85,90,95]}}}},
{"mark":{"type":"tick","orient":"horizontal","size":6.5,"thickness":2.6,"color":"black","opacity":1,"clip":true},"encoding":{
 "x":{"field":"t","type":"quantitative","axis":null},
 "y":{"field":"hi","type":"quantitative","axis":{"orient":"right","title":null,"labels":false,"values":[-100,-80,-60,-40,-20,0,20,40,60,80,100],"tickSize":15}}}},
{"mark":{"type":"circle","size":54,"color":"#ff00ff","opacity":1,"clip":true},"encoding":{
 "x":{"field":"t","type":"quantitative","axis":null},
 "y":{"field":"v","type":"quantitative","axis":{"orient":"right","title":null,"labels":false,"domain":false,"tickSize":8,"values":[-95,-90,-85,-75,-70,-65,-55,-50,-45,-35,-30,-25,-15,-10,-5,5,10,15,25,30,35,45,50,55,65,70,75,85,90,95]}}}}
]},
{"width":1020,"height":368,
"data":{"name":"east"},"resolve":{"axis":{"x":"independent","y":"independent"}},
"layer":[
{"mark":{"type":"rule","stroke":"black","strokeWidth":2.4,"clip":true},"encoding":{
 "x":{"field":"t","type":"quantitative","scale":{"domain":[1993,2009],"nice":false,"zero":false},"axis":{"orient":"bottom","title":null,"values":[1993,1994,1995,1996,1997,1998,1999,2000,2001,2002,2003,2004,2005,2006,2007,2008,2009],"format":"d","tickSize":13,"labelPadding":9.5}},
 "y":{"field":"lo","type":"quantitative","scale":{"domain":[-100,100],"nice":false,"zero":false},"axis":{"orient":"left","title":"East (mm)","values":[-100,-80,-60,-40,-20,0,20,40,60,80,100],"labelExpr":"'' + datum.value","tickSize":15,"labelPadding":12.5,"titlePadding":18.5}},
 "y2":{"field":"hi"}}},
{"mark":{"type":"tick","orient":"horizontal","size":6.5,"thickness":2.6,"color":"black","opacity":1,"clip":true},"encoding":{
 "x":{"field":"t","type":"quantitative","axis":{"orient":"top","title":null,"labels":false,"values":[1993,1994,1995,1996,1997,1998,1999,2000,2001,2002,2003,2004,2005,2006,2007,2008,2009],"tickSize":13}},
 "y":{"field":"lo","type":"quantitative","axis":{"orient":"left","title":null,"labels":false,"domain":false,"tickSize":8,"values":[-95,-90,-85,-75,-70,-65,-55,-50,-45,-35,-30,-25,-15,-10,-5,5,10,15,25,30,35,45,50,55,65,70,75,85,90,95]}}}},
{"mark":{"type":"tick","orient":"horizontal","size":6.5,"thickness":2.6,"color":"black","opacity":1,"clip":true},"encoding":{
 "x":{"field":"t","type":"quantitative","axis":null},
 "y":{"field":"hi","type":"quantitative","axis":{"orient":"right","title":null,"labels":false,"values":[-100,-80,-60,-40,-20,0,20,40,60,80,100],"tickSize":15}}}},
{"mark":{"type":"circle","size":54,"color":"#ff00ff","opacity":1,"clip":true},"encoding":{
 "x":{"field":"t","type":"quantitative","axis":null},
 "y":{"field":"v","type":"quantitative","axis":{"orient":"right","title":null,"labels":false,"domain":false,"tickSize":8,"values":[-95,-90,-85,-75,-70,-65,-55,-50,-45,-35,-30,-25,-15,-10,-5,5,10,15,25,30,35,45,50,55,65,70,75,85,90,95]}}}}
]},
{"width":1020,"height":368,
"data":{"name":"up"},"resolve":{"axis":{"x":"independent","y":"independent"}},
"layer":[
{"mark":{"type":"rule","stroke":"black","strokeWidth":2.4,"clip":true},"encoding":{
 "x":{"field":"t","type":"quantitative","scale":{"domain":[1993,2009],"nice":false,"zero":false},"axis":{"orient":"bottom","title":null,"values":[1993,1994,1995,1996,1997,1998,1999,2000,2001,2002,2003,2004,2005,2006,2007,2008,2009],"format":"d","tickSize":13,"labelPadding":9.5}},
 "y":{"field":"lo","type":"quantitative","scale":{"domain":[-100,100],"nice":false,"zero":false},"axis":{"orient":"left","title":"Up (mm)","values":[-100,-80,-60,-40,-20,0,20,40,60,80,100],"labelExpr":"'' + datum.value","tickSize":15,"labelPadding":12.5,"titlePadding":18.5}},
 "y2":{"field":"hi"}}},
{"mark":{"type":"tick","orient":"horizontal","size":6.5,"thickness":2.6,"color":"black","opacity":1,"clip":true},"encoding":{
 "x":{"field":"t","type":"quantitative","axis":{"orient":"top","title":null,"labels":false,"values":[1993,1994,1995,1996,1997,1998,1999,2000,2001,2002,2003,2004,2005,2006,2007,2008,2009],"tickSize":13}},
 "y":{"field":"lo","type":"quantitative","axis":{"orient":"left","title":null,"labels":false,"domain":false,"tickSize":8,"values":[-95,-90,-85,-75,-70,-65,-55,-50,-45,-35,-30,-25,-15,-10,-5,5,10,15,25,30,35,45,50,55,65,70,75,85,90,95]}}}},
{"mark":{"type":"tick","orient":"horizontal","size":6.5,"thickness":2.6,"color":"black","opacity":1,"clip":true},"encoding":{
 "x":{"field":"t","type":"quantitative","axis":null},
 "y":{"field":"hi","type":"quantitative","axis":{"orient":"right","title":null,"labels":false,"values":[-100,-80,-60,-40,-20,0,20,40,60,80,100],"tickSize":15}}}},
{"mark":{"type":"circle","size":54,"color":"#ff00ff","opacity":1,"clip":true},"encoding":{
 "x":{"field":"t","type":"quantitative","axis":null},
 "y":{"field":"v","type":"quantitative","axis":{"orient":"right","title":null,"labels":false,"domain":false,"tickSize":8,"values":[-95,-90,-85,-75,-70,-65,-55,-50,-45,-35,-30,-25,-15,-10,-5,5,10,15,25,30,35,45,50,55,65,70,75,85,90,95]}}}}
]}
]
}
